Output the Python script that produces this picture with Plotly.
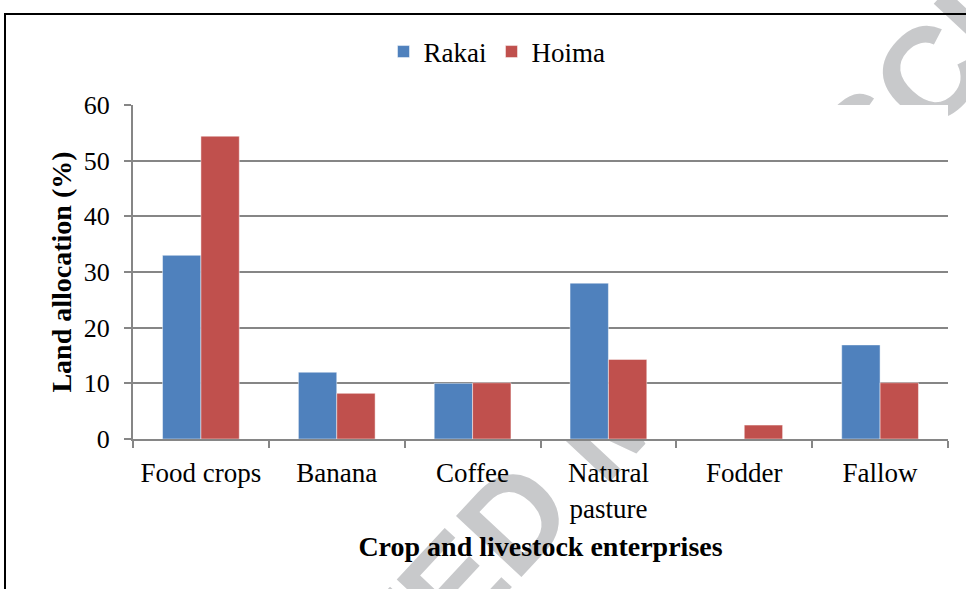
import base64
import plotly.graph_objects as go

# data
categories = ["Food crops", "Banana", "Coffee", "Natural<br>pasture", "Fodder", "Fallow"]
rakai = [33.0, 12.0, 10.0, 28.0, 0.0, 16.9]
hoima = [54.4, 8.2, 10.1, 14.3, 2.5, 10.1]
y_ticks = [0, 10, 20, 30, 40, 50, 60]

serif = "Liberation Serif, Times New Roman, serif"
grid_col = "#868686"

# plot area in pixels (966 x 589 canvas)
L, R, T, B = 133, 948, 105, 439
pw, ph = R - L, B - T

fig = go.Figure()
fig.add_trace(go.Bar(x=categories, y=rakai, name="Rakai",
                     marker=dict(color="#4F81BD", line=dict(color="rgba(255,255,255,0.6)", width=0.8))))
fig.add_trace(go.Bar(x=categories, y=hoima, name="Hoima",
                     marker=dict(color="#C0504D", line=dict(color="rgba(255,255,255,0.6)", width=0.8))))

# faint diagonal watermark behind the chart (hidden by the plot area)
svg = """<svg xmlns="http://www.w3.org/2000/svg" width="966" height="589" viewBox="0 0 966 589">
<g transform="translate(513,517) rotate(-47)">
<text x="-668" y="47" font-family="Liberation Sans, Arial, sans-serif" font-weight="bold"
 font-size="130" fill="#c8c9cb">ACCEPTED MANUSCRIPT</text>
</g></svg>"""
wm = "data:image/svg+xml;base64," + base64.b64encode(svg.encode()).decode()

fig.update_layout(
    width=966, height=589,
    margin=dict(l=L, r=966 - R, t=T, b=589 - B),
    paper_bgcolor="white", plot_bgcolor="white",
    barmode="group", bargap=0.435, bargroupgap=0,
    font=dict(family=serif, size=26, color="black"),
    legend=dict(orientation="h", x=(497 - L) / pw, xanchor="center",
                y=(B - 52) / ph, yanchor="middle",
                font=dict(family=serif, size=27), itemwidth=30),
    images=[dict(source=wm, xref="paper", yref="paper", x=-L / pw, y=B / ph,
                 sizex=966 / pw, sizey=589 / ph, sizing="stretch",
                 xanchor="left", yanchor="top", layer="below")],
    shapes=[
        dict(type="rect", xref="paper", yref="paper", x0=0, x1=1, y0=0, y1=1,
             fillcolor="white", line=dict(width=0), layer="below"),
        dict(type="rect", xref="paper", yref="paper",
             x0=(5 - L) / pw, x1=(980 - L) / pw, y0=(B - 620) / ph, y1=(B - 14) / ph,
             line=dict(color="black", width=2), fillcolor="rgba(0,0,0,0)"),
    ],
)

fig.update_xaxes(
    showline=True, linecolor=grid_col, linewidth=2,
    ticks="outside", ticklen=7, tickwidth=2, tickcolor=grid_col,
    tickson="boundaries", ticklabelstandoff=9,
    tickfont=dict(family=serif, size=27),
    title=dict(text="<b>Crop and livestock enterprises</b>",
               font=dict(family=serif, size=28), standoff=14),
)
fig.update_yaxes(
    range=[0, 60], tickvals=y_ticks,
    showline=True, linecolor=grid_col, linewidth=2,
    showgrid=True, gridcolor=grid_col, gridwidth=2,
    ticks="outside", ticklen=7, tickwidth=2, tickcolor=grid_col,
    ticklabelstandoff=9, zeroline=False,
    tickfont=dict(family=serif, size=26),
    title=dict(text="<b>Land allocation (%)</b>",
               font=dict(family=serif, size=28), standoff=4),
)

# drop the default page margin so the figure sits at the window corner
fig.write_html("out.html", config={"displayModeBar": False},
               post_script="document.body.style.margin='0';")
